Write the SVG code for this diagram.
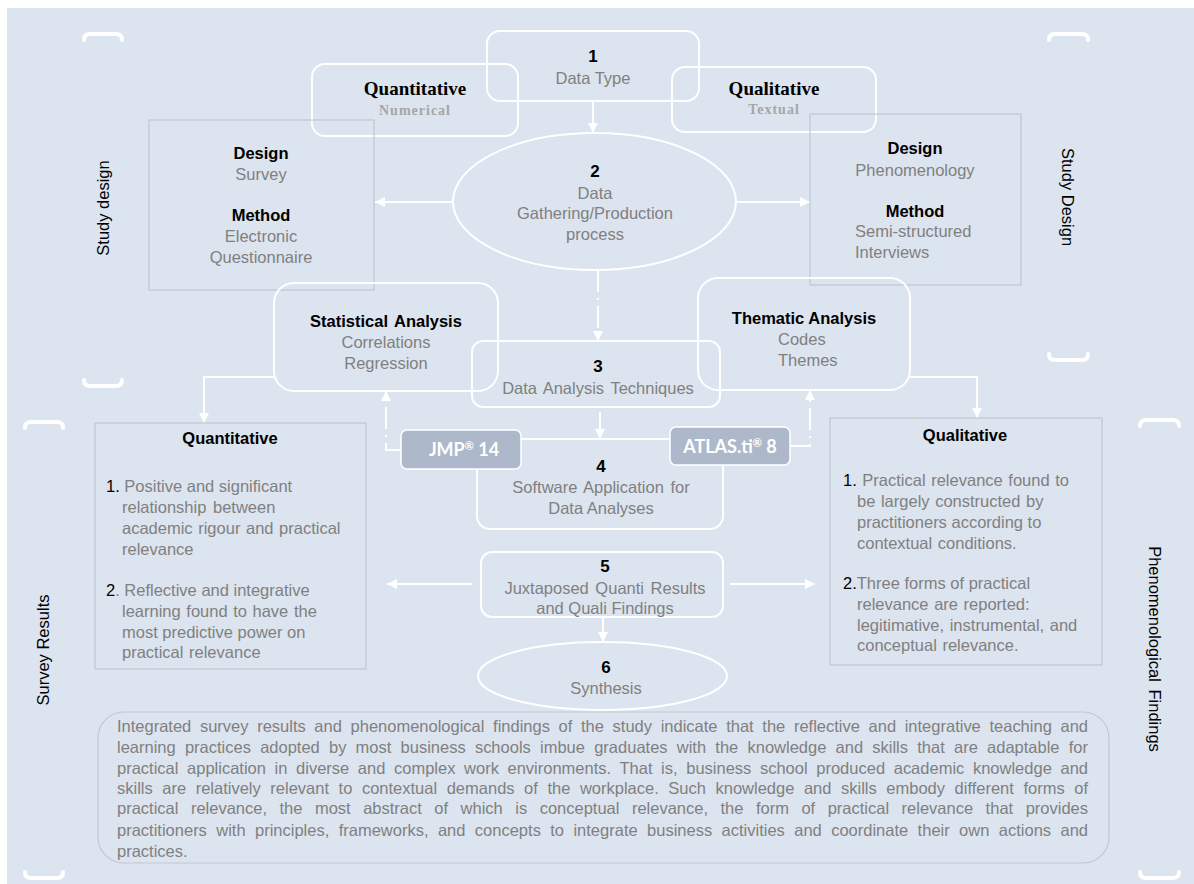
<svg xmlns="http://www.w3.org/2000/svg" width="1194" height="884" viewBox="0 0 1194 884">
  <defs>
    <style>
      .t{font-family:"Liberation Sans",Arial,sans-serif;font-size:16.5px;fill:#808080}
      .b{font-family:"Liberation Sans",Arial,sans-serif;font-size:16.5px;font-weight:bold;fill:#000}
      .k{fill:#000}
      .num{font-family:"Liberation Sans",Arial,sans-serif;font-size:17px;font-weight:bold;fill:#000}
      .serif{font-family:"Liberation Serif","Times New Roman",serif;font-weight:bold}
      .side{font-family:"Liberation Sans",Arial,sans-serif;font-size:16.5px;fill:#000}
      .mid{text-anchor:middle}
      .wbox{fill:none;stroke:#fff;stroke-width:2}
      .gbox{fill:none;stroke:#c2c7cf;stroke-width:1.2}
      .sw{font-family:Lato,"Open Sans",sans-serif;font-weight:bold;font-size:18px;fill:#fff}
      .swbox{fill:#adb9ca;stroke:#fff;stroke-width:1.5}
      .c{fill:none;stroke:#fff;stroke-width:2}
      .dd{stroke-dasharray:22 6 2 6}
      .br{fill:none;stroke:#fff;stroke-width:4;stroke-linecap:round}
    </style>
    <marker id="ah" markerUnits="userSpaceOnUse" markerWidth="10" markerHeight="10" viewBox="0 0 10 10" refX="10" refY="5" orient="auto">
      <path d="M0,0L10,5L0,10z" fill="#fff"/>
    </marker>
  </defs>

  <!-- page and panel -->
  <rect x="0" y="0" width="1194" height="884" fill="#fff"/>
  <rect x="7" y="8" width="1187" height="876" fill="#dce4ef"/>

  <!-- section brackets -->
  <g id="brackets">
    <path class="br" d="M84,40Q84,34 90,34L116,34Q122,34 122,40"/>
    <path class="br" d="M84,380Q84,386 90,386L116,386Q122,386 122,380"/>
    <path class="br" d="M1049,40Q1049,34 1055,34L1082,34Q1088,34 1088,40"/>
    <path class="br" d="M1049,354Q1049,360 1055,360L1082,360Q1088,360 1088,354"/>
    <path class="br" d="M25,428Q25,422 31,422L57,422Q63,422 63,428"/>
    <path class="br" d="M25,872Q25,878 31,878L57,878Q63,878 63,872"/>
    <path class="br" d="M1140,426Q1140,420 1146,420L1173,420Q1179,420 1179,426"/>
    <path class="br" d="M1140,872Q1140,878 1146,878L1173,878Q1179,878 1179,872"/>
  </g>

  <!-- side labels -->
  <g id="side-labels">
    <text class="side mid" transform="translate(103,208) rotate(-90)" y="6">Study design</text>
    <text class="side mid" transform="translate(1068,197) rotate(90)" y="6">Study Design</text>
    <text class="side mid" transform="translate(43,650) rotate(-90)" y="6">Survey Results</text>
    <text class="side mid" transform="translate(1155,649) rotate(90)" y="6" word-spacing="3">Phenomenological Findings</text>
  </g>

  <!-- connectors -->
  <g id="connectors">
    <line class="c" x1="593" y1="101" x2="593" y2="133" marker-end="url(#ah)"/>
    <line class="c" x1="453" y1="202" x2="375" y2="202" marker-end="url(#ah)"/>
    <line class="c" x1="736" y1="202" x2="810" y2="202" marker-end="url(#ah)"/>
    <line class="c dd" x1="598" y1="270" x2="598" y2="341" marker-end="url(#ah)"/>
    <line class="c" x1="600" y1="412" x2="600" y2="439" marker-end="url(#ah)"/>
    <polyline class="c" points="274,377 204,377 204,423" marker-end="url(#ah)"/>
    <polyline class="c" points="910,377 977,377 977,418" marker-end="url(#ah)"/>
    <polyline class="c dd" points="401,450 386,450 386,391" marker-end="url(#ah)"/>
    <polyline class="c dd" points="790,446 810,446 810,390" marker-end="url(#ah)"/>
    <line class="c" x1="472" y1="584" x2="387" y2="584" marker-end="url(#ah)"/>
    <line class="c" x1="730" y1="584" x2="815" y2="584" marker-end="url(#ah)"/>
    <line class="c" x1="603" y1="617" x2="603" y2="642" marker-end="url(#ah)"/>
  </g>

  <!-- 1 Data Type -->
  <g id="n1">
    <rect class="wbox" x="487" y="31" width="212" height="70" rx="13"/>
    <text class="num mid" x="593" y="62">1</text>
    <text class="t mid" x="593" y="84">Data Type</text>
  </g>

  <g id="quant-type">
    <rect class="wbox" x="312" y="64" width="206" height="72" rx="13"/>
    <text class="serif mid" x="415" y="95" font-size="19" fill="#000">Quantitative</text>
    <text class="serif mid" x="415" y="115" font-size="14" fill="#a6a6a6" letter-spacing="1">Numerical</text>
  </g>

  <g id="qual-type">
    <rect class="wbox" x="672" y="67" width="204" height="65" rx="13"/>
    <text class="serif mid" x="774" y="95" font-size="19" fill="#000">Qualitative</text>
    <text class="serif mid" x="774" y="114" font-size="14" fill="#a6a6a6" letter-spacing="1">Textual</text>
  </g>

  <!-- 2 Data gathering -->
  <g id="n2">
    <ellipse class="wbox" cx="594.5" cy="201.5" rx="141.5" ry="68.5"/>
    <text class="num mid" x="595" y="177">2</text>
    <text class="t mid" x="595" y="199">Data</text>
    <text class="t mid" x="595" y="219">Gathering/Production</text>
    <text class="t mid" x="595" y="240">process</text>
  </g>

  <g id="quant-design">
    <rect class="gbox" x="149" y="120" width="225" height="170"/>
    <text class="b mid" x="261" y="159">Design</text>
    <text class="t mid" x="261" y="180">Survey</text>
    <text class="b mid" x="261" y="221">Method</text>
    <text class="t mid" x="261" y="242">Electronic</text>
    <text class="t mid" x="261" y="263">Questionnaire</text>
  </g>

  <g id="qual-design">
    <rect class="gbox" x="810" y="114" width="211" height="171"/>
    <text class="b mid" x="915" y="154">Design</text>
    <text class="t mid" x="915" y="176">Phenomenology</text>
    <text class="b mid" x="915" y="217">Method</text>
    <text class="t" x="855" y="237">Semi-structured</text>
    <text class="t" x="855" y="258">Interviews</text>
  </g>

  <!-- 3 Data analysis -->
  <g id="stat-analysis">
    <rect class="wbox" x="274" y="283" width="224" height="108" rx="20"/>
    <text class="b mid" x="386" y="327" word-spacing="2">Statistical Analysis</text>
    <text class="t mid" x="386" y="348">Correlations</text>
    <text class="t mid" x="386" y="369">Regression</text>
  </g>

  <g id="thematic-analysis">
    <rect class="wbox" x="698" y="278" width="212" height="112" rx="20"/>
    <text class="b mid" x="804" y="324">Thematic Analysis</text>
    <text class="t" x="778" y="345">Codes</text>
    <text class="t" x="778" y="366">Themes</text>
  </g>

  <g id="n3">
    <rect class="wbox" x="472" y="341" width="248" height="66" rx="11"/>
    <text class="num mid" x="598" y="372">3</text>
    <text class="t mid" x="598" y="394" word-spacing="2">Data Analysis Techniques</text>
  </g>

  <!-- 4 Software -->
  <g id="n4">
    <rect class="wbox" x="477" y="439" width="246" height="90" rx="13"/>
    <text class="num mid" x="601" y="472">4</text>
    <text class="t mid" x="601" y="493" word-spacing="2">Software Application for</text>
    <text class="t mid" x="601" y="514">Data Analyses</text>
  </g>

  <g id="jmp">
    <rect class="swbox" x="401" y="430" width="120" height="39" rx="6"/>
    <text class="sw mid" x="464" y="456">JMP<tspan font-size="11" dy="-6">®</tspan><tspan dy="6"> 14</tspan></text>
  </g>

  <g id="atlas">
    <rect class="swbox" x="670" y="427" width="120" height="38" rx="6"/>
    <text class="sw mid" x="730" y="453">ATLAS.ti<tspan font-size="11" dy="-6">®</tspan><tspan dy="6"> 8</tspan></text>
  </g>

  <!-- results -->
  <g id="quant-results">
    <rect class="gbox" x="95" y="423" width="271" height="246"/>
    <text class="b mid" x="230" y="444">Quantitative</text>
    <text class="t" x="106" y="492"><tspan class="k">1.</tspan> Positive and significant</text>
    <text class="t" x="122" y="513" word-spacing="2">relationship between</text>
    <text class="t" x="122" y="534" word-spacing="1">academic rigour and practical</text>
    <text class="t" x="122" y="555">relevance</text>
    <text class="t" x="106" y="596"><tspan class="k">2</tspan>. Reflective and integrative</text>
    <text class="t" x="122" y="617" word-spacing="1">learning found to have the</text>
    <text class="t" x="122" y="638">most predictive power on</text>
    <text class="t" x="122" y="658" word-spacing="1">practical relevance</text>
  </g>

  <g id="qual-results">
    <rect class="gbox" x="830" y="418" width="272" height="247"/>
    <text class="b mid" x="965" y="441">Qualitative</text>
    <text class="t" x="843" y="486" word-spacing="1"><tspan class="k">1.</tspan> Practical relevance found to</text>
    <text class="t" x="857" y="507" word-spacing="1">be largely constructed by</text>
    <text class="t" x="857" y="528">practitioners according to</text>
    <text class="t" x="857" y="549" word-spacing="1">contextual conditions.</text>
    <text class="t" x="843" y="589"><tspan class="k">2.</tspan>Three forms of practical</text>
    <text class="t" x="857" y="610" word-spacing="1">relevance are reported:</text>
    <text class="t" x="857" y="631" word-spacing="1">legitimative, instrumental, and</text>
    <text class="t" x="857" y="651" word-spacing="1">conceptual relevance.</text>
  </g>

  <!-- 5 Juxtaposition -->
  <g id="n5">
    <rect class="wbox" x="481" y="552" width="242" height="65" rx="11"/>
    <text class="num mid" x="605" y="572">5</text>
    <text class="t mid" x="605" y="594" word-spacing="2">Juxtaposed Quanti Results</text>
    <text class="t mid" x="605" y="614">and Quali Findings</text>
  </g>

  <!-- 6 Synthesis -->
  <g id="n6">
    <ellipse class="wbox" cx="602.5" cy="676" rx="124.5" ry="34"/>
    <text class="num mid" x="606" y="673">6</text>
    <text class="t mid" x="606" y="694">Synthesis</text>
  </g>

  <g id="summary">
    <rect class="gbox" x="98" y="712" width="1011" height="151" rx="26"/>
    <text class="t" x="117" y="732" word-spacing="4.06" textLength="971" lengthAdjust="spacing">Integrated survey results and phenomenological findings of the study indicate that the reflective and integrative teaching and</text>
    <text class="t" x="117" y="753" word-spacing="4.63" textLength="971" lengthAdjust="spacing">learning practices adopted by most business schools imbue graduates with the knowledge and skills that are adaptable for</text>
    <text class="t" x="117" y="774" word-spacing="4.03" textLength="971" lengthAdjust="spacing">practical application in diverse and complex work environments. That is, business school produced academic knowledge and</text>
    <text class="t" x="117" y="794" word-spacing="4.95" textLength="971" lengthAdjust="spacing">skills are relatively relevant to contextual demands of the workplace. Such knowledge and skills embody different forms of</text>
    <text class="t" x="117" y="814" word-spacing="7.9" textLength="971" lengthAdjust="spacing">practical relevance, the most abstract of which is conceptual relevance, the form of practical relevance that provides</text>
    <text class="t" x="117" y="836" word-spacing="4.82" textLength="971" lengthAdjust="spacing">practitioners with principles, frameworks, and concepts to integrate business activities and coordinate their own actions and</text>
    <text class="t" x="117" y="857">practices.</text>
  </g>
</svg>
